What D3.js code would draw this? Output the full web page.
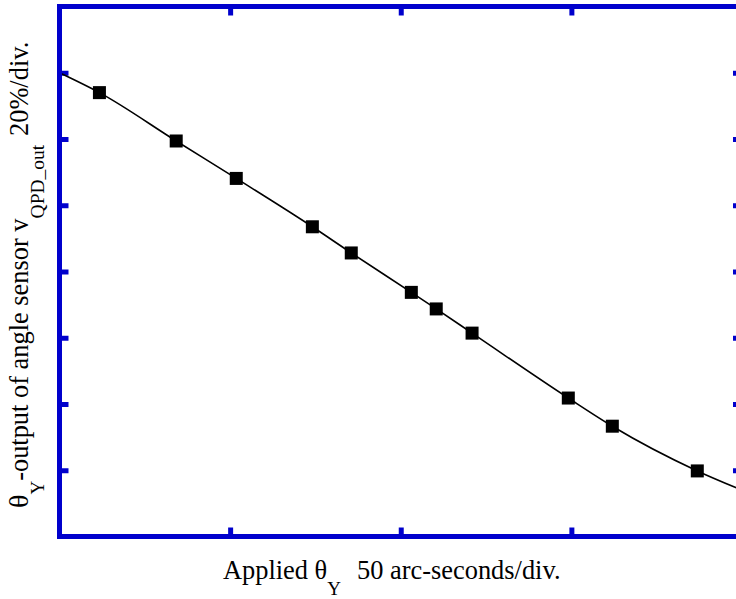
<!DOCTYPE html>
<html>
<head>
<meta http-equiv="Content-Type" content="text/html;charset=utf-8">
<title>angle sensor output</title>
<script src="https://cdn.jsdelivr.net/npm/d3@7"></script>
<style>
body { margin: 0; background: #fff; }
svg { display: block; overflow: hidden; }
text { font-family: "Liberation Serif", "Times New Roman", serif; fill: #000; }
</style>
</head>
<body>
<svg id="chart" width="736" height="599"></svg>
<script>
// applied angle (arc-seconds) vs sensor output (%)
var appliedX = [-88.3, -65.8, -48.2, -25.9, -14.5, 3.1, 10.4, 20.9, 49.1, 62.0, 86.9];
var outputY  = [54.0, 39.4, 28.1, 13.5, 5.6, -6.3, -11.3, -18.6, -38.2, -46.7, -60.2];
// where the fitted curve meets the frame
var fitEndsX = [-100, 100];
var fitEndsY = [60, -66];
var xTicks = [-50, 0, 50];
var yTicks = [-60, -40, -20, 0, 20, 40, 60];

var blue = "#0000cc";
var svg = d3.select("#chart");

var plotL = 59.5, plotR = 742, plotT = 6.5, plotB = 536.5;

var x = d3.scaleLinear().domain([-100, 100]).range([plotL, plotR]);
var y = d3.scaleLinear().domain([-80, 80]).range([plotB, plotT]);

svg.append("defs").append("clipPath").attr("id", "plotclip")
  .append("rect")
    .attr("x", plotL).attr("y", plotT)
    .attr("width", plotR - plotL).attr("height", plotB - plotT);

// inward ticks on all four sides
function tickStyle(g) {
  g.select(".domain").remove();
  g.selectAll(".tick text").remove();
  g.selectAll(".tick line").attr("stroke", blue).attr("stroke-width", 5);
}
svg.append("g").attr("transform", "translate(0," + plotB + ")")
  .call(d3.axisBottom(x).tickValues(xTicks).tickSize(-9)).call(tickStyle);
svg.append("g").attr("transform", "translate(0," + plotT + ")")
  .call(d3.axisTop(x).tickValues(xTicks).tickSize(-9)).call(tickStyle);
svg.append("g").attr("transform", "translate(" + plotL + ",0)")
  .call(d3.axisLeft(y).tickValues(yTicks).tickSize(-9)).call(tickStyle);
svg.append("g").attr("transform", "translate(" + plotR + ",0)")
  .call(d3.axisRight(y).tickValues(yTicks).tickSize(-9)).call(tickStyle);

// curve through the measured points
var pts = appliedX.map(function(d, i) { return [d, outputY[i]]; });
var curvePts = [[fitEndsX[0], fitEndsY[0]]].concat(pts, [[fitEndsX[1], fitEndsY[1]]]);

var line = d3.line()
  .x(function(d) { return x(d[0]); })
  .y(function(d) { return y(d[1]); })
  .curve(d3.curveMonotoneX);

svg.append("path")
  .datum(curvePts)
  .attr("clip-path", "url(#plotclip)")
  .attr("fill", "none")
  .attr("stroke", "#000")
  .attr("stroke-width", 1.6)
  .attr("d", line);

var sq = 13;
svg.selectAll("rect.pt")
  .data(pts)
  .enter().append("rect")
    .attr("class", "pt")
    .attr("x", function(d) { return x(d[0]) - sq / 2; })
    .attr("y", function(d) { return y(d[1]) - sq / 2; })
    .attr("width", sq)
    .attr("height", sq)
    .attr("fill", "#000");

// frame
svg.append("rect")
  .attr("x", plotL).attr("y", plotT)
  .attr("width", plotR - plotL).attr("height", plotB - plotT)
  .attr("fill", "none")
  .attr("stroke", blue)
  .attr("stroke-width", 5);

// x label
var xl = svg.append("text")
  .attr("x", 223).attr("y", 579)
  .style("font-size", "26.4px");
xl.append("tspan").text("Applied \u03b8");
xl.append("tspan").attr("dy", 16).style("font-size", "19px").text("Y");
xl.append("tspan").attr("x", 357).attr("dy", -16).text("50 arc-seconds/div.");

// y label
var yl = svg.append("text")
  .attr("transform", "rotate(-90)")
  .attr("x", -508).attr("y", 28)
  .style("font-size", "26.4px");
yl.append("tspan").style("font-size", "28px").text("\u03b8");
yl.append("tspan").attr("dy", 16).style("font-size", "19px").text("Y");
yl.append("tspan").attr("dy", -16).text("-output of angle sensor v");
yl.append("tspan").attr("dy", 16).style("font-size", "19.5px").text("QPD_out");
yl.append("tspan").attr("x", -136).attr("dy", -16).text("20%/div.");
</script>
</body>
</html>
